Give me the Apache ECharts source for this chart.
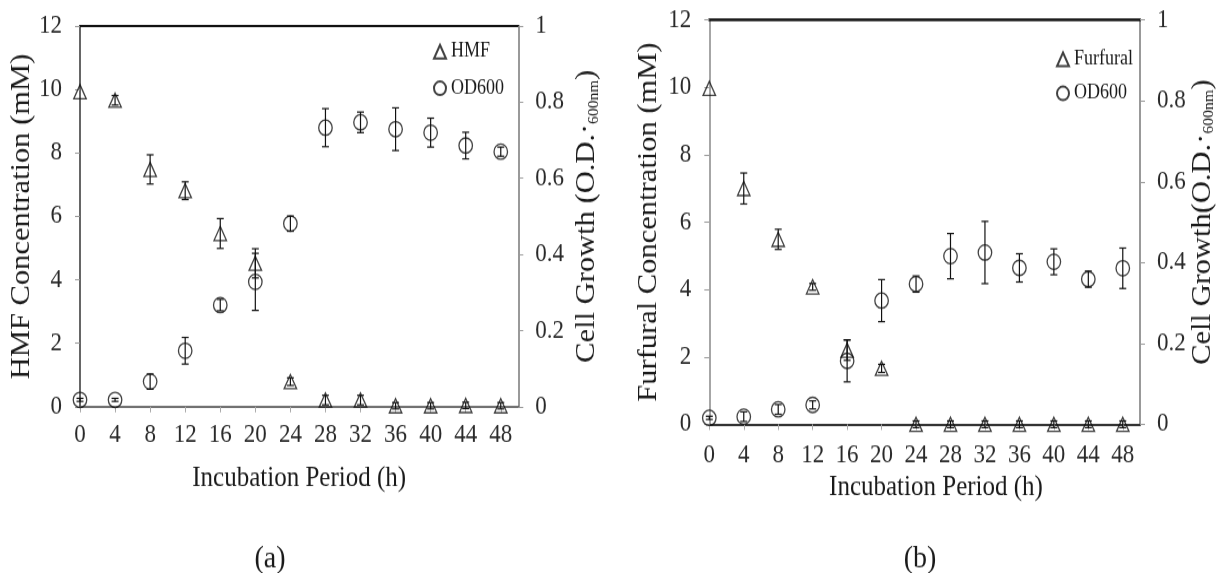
<!DOCTYPE html>
<html>
<head>
<meta charset="utf-8">
<script src="https://cdn.jsdelivr.net/npm/echarts@6/dist/echarts.min.js"></script>
<style>
html,body{margin:0;padding:0;background:#fff;overflow:hidden;}
#wrap{width:1218px;height:573px;overflow:hidden;}
#c{width:1218px;height:507px;transform:scaleY(1.13018);transform-origin:0 0;}
</style>
</head>
<body>
<div id="wrap"><div id="c"></div></div>
<script>
// ---- data ----
const hours = [0, 4, 8, 12, 16, 20, 24, 28, 32, 36, 40, 44, 48];
const hmf    = [9.93, 9.66, 7.48, 6.81, 5.46, 4.52, 0.79, 0.21, 0.21, 0.03, 0.03, 0.04, 0.03];
const hmfErr = [0, 0.15, 0.46, 0.28, 0.47, 0.46, 0.12, 0.15, 0.15, 0.1, 0.1, 0.1, 0.1];
const odA    = [0.018, 0.018, 0.066, 0.147, 0.267, 0.328, 0.481, 0.733, 0.747, 0.729, 0.720, 0.686, 0.670];
const odAErr = [0.004, 0.004, 0.02, 0.035, 0.015, 0.075, 0.02, 0.05, 0.027, 0.056, 0.038, 0.035, 0.012];
const fur    = [9.97, 7.0, 5.49, 4.08, 2.2, 1.66, 0, 0, 0, 0, 0, 0, 0];
const furErr = [0, 0.46, 0.3, 0.1, 0.3, 0.12, 0.1, 0.1, 0.1, 0.1, 0.1, 0.1, 0.1];
const odB    = [0.016, 0.019, 0.037, 0.048, 0.157, 0.306, 0.347, 0.416, 0.425, 0.387, 0.402, 0.359, 0.386];
const odBErr = [0.004, 0.012, 0.012, 0.01, 0.052, 0.052, 0.02, 0.056, 0.077, 0.035, 0.032, 0.02, 0.05];
const xTicks = [0, 4, 8, 12, 16, 20, 24, 28, 32, 36, 40, 44, 48];

const FONT = 'Liberation Serif';
const TXT = '#1a1a1a';

function pts(vals) { return hours.map((h, i) => [h, vals[i]]); }
function errPts(vals, errs) { return hours.map((h, i) => [h, vals[i] - errs[i], vals[i] + errs[i]]); }

function errRender(params, api) {
  const x = api.value(0), lo = api.value(1), hi = api.value(2);
  if (hi - lo <= 0) return null;
  const p1 = api.coord([x, lo]), p2 = api.coord([x, hi]);
  const cw = 3.5;
  const st = { stroke: '#111', lineWidth: 1.2 };
  return { type: 'group', children: [
    { type: 'line', shape: { x1: p1[0], y1: p1[1], x2: p2[0], y2: p2[1] }, style: st },
    { type: 'line', shape: { x1: p1[0] - cw, y1: p1[1], x2: p1[0] + cw, y2: p1[1] }, style: st },
    { type: 'line', shape: { x1: p2[0] - cw, y1: p2[1], x2: p2[0] + cw, y2: p2[1] }, style: st }
  ]};
}

function xBottom(grid, labelMargin, lineColor, lineWidth, nameGap, namePadLeft) {
  return {
    type: 'value', gridIndex: grid, position: 'bottom', min: 0, max: 50,
    name: 'Incubation Period (h)', nameLocation: 'middle', nameGap: nameGap,
    nameTextStyle: { fontFamily: FONT, fontSize: 25, color: TXT, padding: [0, 0, 0, namePadLeft] },
    axisLine: { onZero: false, lineStyle: { color: lineColor, width: lineWidth } },
    axisTick: { show: true, length: 5, inside: false, customValues: xTicks, lineStyle: { color: '#aaa', width: 1 } },
    axisLabel: { customValues: xTicks, margin: labelMargin, fontFamily: FONT, fontSize: 23, color: '#2a2a2a' },
    splitLine: { show: false }
  };
}
function xTop(grid, color, width) {
  return {
    type: 'value', gridIndex: grid, position: 'top', min: 0, max: 50,
    axisLine: { onZero: false, lineStyle: { color: color, width: width } },
    axisTick: { show: false }, axisLabel: { show: false }, splitLine: { show: false }
  };
}
function yConc(grid, name, nameGap, lineColor) {
  return {
    type: 'value', gridIndex: grid, position: 'left', min: 0, max: 12, interval: 2,
    name: name, nameLocation: 'middle', nameGap: nameGap, nameRotate: 90,
    nameTextStyle: { fontFamily: FONT, fontSize: 27, color: TXT },
    axisLine: { show: true, onZero: false, lineStyle: { color: lineColor, width: 1.5 } },
    axisTick: { show: true, length: 5, lineStyle: { color: '#999', width: 1 } },
    axisLabel: { margin: 18, fontFamily: FONT, fontSize: 23, color: '#2a2a2a' },
    splitLine: { show: false }
  };
}
function yOD(grid, name, nameGap) {
  return {
    type: 'value', gridIndex: grid, position: 'right', min: 0, max: 1, interval: 0.2,
    name: name, nameLocation: 'middle', nameGap: nameGap, nameRotate: 90,
    nameTextStyle: {
      fontFamily: FONT, fontSize: 27, color: TXT,
      rich: {
        m: { fontFamily: FONT, fontSize: 27, lineHeight: 27, color: TXT },
        s: { fontFamily: FONT, fontSize: 14, lineHeight: 9, verticalAlign: 'bottom', color: TXT }
      }
    },
    axisLine: { show: true, onZero: false, lineStyle: { color: '#777', width: 1.5 } },
    axisTick: { show: true, length: 5, lineStyle: { color: '#999', width: 1 } },
    axisLabel: { margin: 17, fontFamily: FONT, fontSize: 23, color: '#2a2a2a' },
    splitLine: { show: false }
  };
}

const triStyle = { color: 'rgba(0,0,0,0)', borderColor: '#111', borderWidth: 1.3 };
const circStyle = { color: 'rgba(0,0,0,0)', borderColor: '#111', borderWidth: 1.3 };

const option = {
  animation: false,
  backgroundColor: '#fff',
  grid: [
    { left: 80, right: 699.7, top: 23.0, bottom: 147.15, containLabel: false },
    { left: 709.3, right: 78, top: 17.7, bottom: 131.57, containLabel: false }
  ],
  xAxis: [
    xBottom(0, 14, '#444', 1.5, 51.5, 0),
    xTop(0, '#111', 2),
    xBottom(1, 16, '#333', 2, 40.5, 22.7),
    xTop(1, '#111', 2.5)
  ],
  yAxis: [
    yConc(0, 'HMF Concentration (mM)', 42.4, '#333'),
    yOD(0, '{m|Cell Growth (O.D.·}{s|600nm}{m|)}', 55.6),
    yConc(1, 'Furfural Concentration (mM)', 46.4, '#888'),
    yOD(1, '{m|Cell Growth(O.D.·}{s|600nm}{m|)}', 48.9)
  ],
  legend: [
    { orient: 'vertical', left: 433, top: 36.7, padding: 0, itemGap: 14.4, itemWidth: 12, itemHeight: 12,
      data: ['HMF', 'OD600'], textStyle: { fontFamily: FONT, fontSize: 18, color: TXT }, selectedMode: false },
    { orient: 'vertical', left: 1056, top: 43.5, padding: 0, itemGap: 12.1, itemWidth: 12, itemHeight: 12,
      data: ['Furfural', 'OD600'], textStyle: { fontFamily: FONT, fontSize: 18, color: TXT }, selectedMode: false }
  ],
  graphic: [
    { type: 'text', x: 270, y: 494.2, style: { text: '(a)', font: '28px "Liberation Serif"', fill: TXT, align: 'center', verticalAlign: 'middle' } },
    { type: 'text', x: 920, y: 494.2, style: { text: '(b)', font: '28px "Liberation Serif"', fill: TXT, align: 'center', verticalAlign: 'middle' } }
  ],
  series: [
    { type: 'custom', name: 'hmfErr', xAxisIndex: 0, yAxisIndex: 0, renderItem: errRender, encode: { x: 0, y: [1, 2] }, data: errPts(hmf, hmfErr), z: 3 },
    { type: 'custom', name: 'odAErr', xAxisIndex: 0, yAxisIndex: 1, renderItem: errRender, encode: { x: 0, y: [1, 2] }, data: errPts(odA, odAErr), z: 3 },
    { type: 'scatter', name: 'HMF', xAxisIndex: 0, yAxisIndex: 0, symbol: 'triangle', symbolSize: [12.5, 12.5], itemStyle: triStyle, data: pts(hmf), z: 4 },
    { type: 'scatter', name: 'OD600', xAxisIndex: 0, yAxisIndex: 1, symbol: 'circle', symbolSize: [13.5, 13.5], itemStyle: circStyle, data: pts(odA), z: 4 },

    { type: 'custom', name: 'furErr', xAxisIndex: 2, yAxisIndex: 2, renderItem: errRender, encode: { x: 0, y: [1, 2] }, data: errPts(fur, furErr), z: 3 },
    { type: 'custom', name: 'odBErr', xAxisIndex: 2, yAxisIndex: 3, renderItem: errRender, encode: { x: 0, y: [1, 2] }, data: errPts(odB, odBErr), z: 3 },
    { type: 'scatter', name: 'Furfural', xAxisIndex: 2, yAxisIndex: 2, symbol: 'triangle', symbolSize: [12.5, 12.5], itemStyle: triStyle, data: pts(fur), z: 4 },
    { type: 'scatter', name: 'OD600', xAxisIndex: 2, yAxisIndex: 3, symbol: 'circle', symbolSize: [13.5, 13.5], itemStyle: circStyle, data: pts(odB), z: 4 }
  ]
};

const chart = echarts.init(document.getElementById('c'), null, { renderer: 'canvas' });
chart.setOption(option);
</script>
</body>
</html>
